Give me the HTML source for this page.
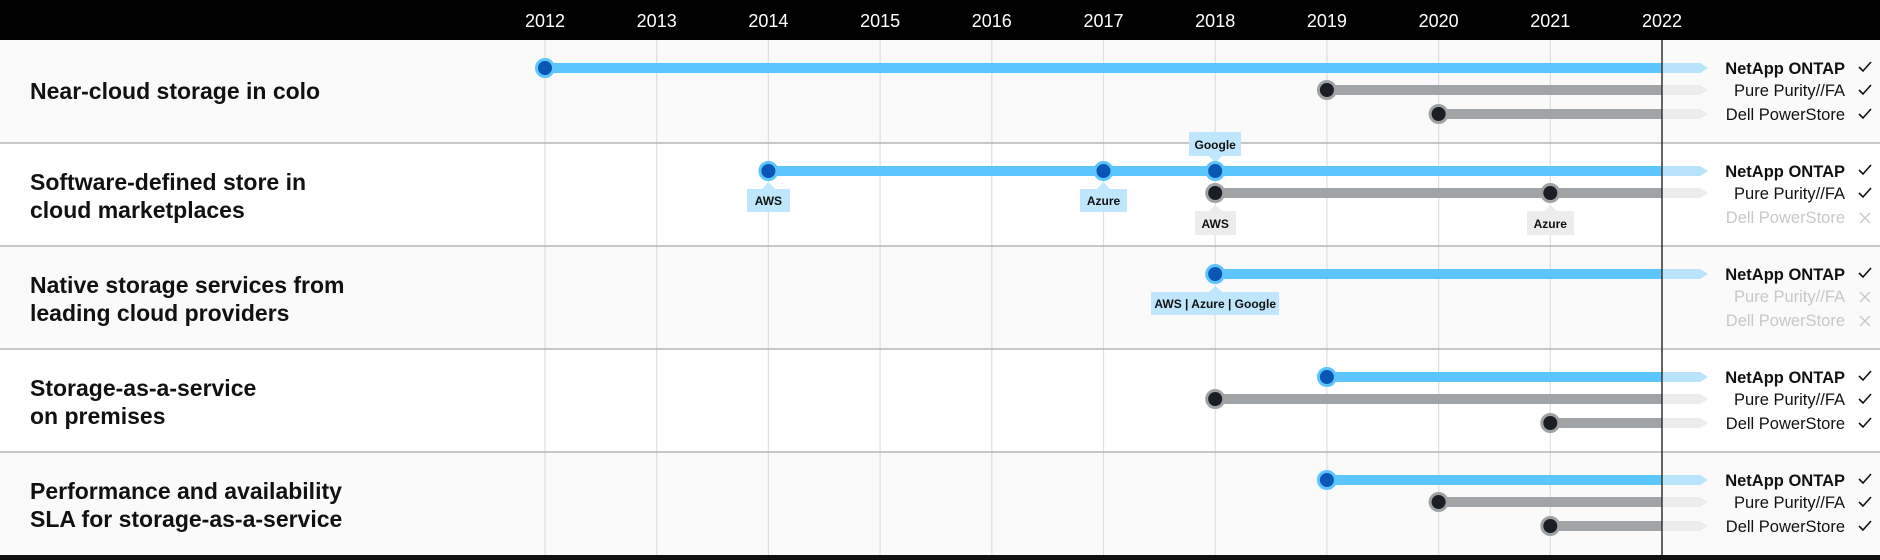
<!DOCTYPE html>
<html><head><meta charset="utf-8"><style>
html,body{margin:0;padding:0;background:#fff}
svg{display:block;font-family:"Liberation Sans",Arial,sans-serif}
</style></head><body>
<svg width="1880" height="560" viewBox="0 0 1880 560" xmlns="http://www.w3.org/2000/svg">
<defs>
<g id="bd"><circle r="8.5" fill="#0a56b4" stroke="#5cc5fd" stroke-width="3"/></g>
<g id="gd"><circle r="8.5" fill="#1b1f25" stroke="#9ea3a6" stroke-width="3"/></g>
<path id="ck" d="M-6,0 L-2,4 L6,-5" fill="none" stroke-width="1.6"/>
<path id="xx" d="M-5,-5 L5,5 M5,-5 L-5,5" fill="none" stroke-width="1.4"/>
</defs>
<rect x="0" y="0" width="1880" height="40" fill="#000"/>
<g fill="#fff" font-size="18" text-anchor="middle">
<text x="545" y="27">2012</text><text x="656.7" y="27">2013</text><text x="768.4" y="27">2014</text>
<text x="880.1" y="27">2015</text><text x="991.8" y="27">2016</text><text x="1103.5" y="27">2017</text>
<text x="1215.2" y="27">2018</text><text x="1326.9" y="27">2019</text><text x="1438.6" y="27">2020</text>
<text x="1550.3" y="27">2021</text><text x="1662" y="27">2022</text>
</g>
<rect x="0" y="40" width="1880" height="103" fill="#fafafa"/>
<rect x="0" y="143" width="1880" height="103" fill="#fff"/>
<rect x="0" y="246" width="1880" height="103" fill="#fafafa"/>
<rect x="0" y="349" width="1880" height="103" fill="#fff"/>
<rect x="0" y="452" width="1880" height="103" fill="#fafafa"/>
<rect x="0" y="555" width="1880" height="5" fill="#111"/>
<g stroke="#dddfe0" stroke-width="1.2">
<line x1="545" y1="40" x2="545" y2="555"/><line x1="656.7" y1="40" x2="656.7" y2="555"/>
<line x1="768.4" y1="40" x2="768.4" y2="555"/><line x1="880.1" y1="40" x2="880.1" y2="555"/>
<line x1="991.8" y1="40" x2="991.8" y2="555"/><line x1="1103.5" y1="40" x2="1103.5" y2="555"/>
<line x1="1215.2" y1="40" x2="1215.2" y2="555"/><line x1="1326.9" y1="40" x2="1326.9" y2="555"/>
<line x1="1438.6" y1="40" x2="1438.6" y2="555"/><line x1="1550.3" y1="40" x2="1550.3" y2="555"/>
</g>
<g stroke="#b4b6b8" stroke-width="1.5">
<line x1="0" y1="143" x2="1880" y2="143"/><line x1="0" y1="246" x2="1880" y2="246"/>
<line x1="0" y1="349" x2="1880" y2="349"/><line x1="0" y1="452" x2="1880" y2="452"/>
</g>
<g font-size="23" font-weight="bold" fill="#111">
<text x="30" y="99">Near-cloud storage in colo</text>
<text x="30" y="190">Software-defined store in</text><text x="30" y="218">cloud marketplaces</text>
<text x="30" y="293">Native storage services from</text><text x="30" y="321">leading cloud providers</text>
<text x="30" y="396">Storage-as-a-service</text><text x="30" y="424">on premises</text>
<text x="30" y="499">Performance and availability</text><text x="30" y="527">SLA for storage-as-a-service</text>
</g>
<g>
<polygon points="1662,63 1700,63 1708,68 1700,73 1662,73" fill="#b9e3fb"/>
<polygon points="1662,85 1700,85 1708,90 1700,95 1662,95" fill="#ececec"/>
<polygon points="1662,109 1700,109 1708,114 1700,119 1662,119" fill="#ececec"/>
<polygon points="1662,166 1700,166 1708,171 1700,176 1662,176" fill="#b9e3fb"/>
<polygon points="1662,188 1700,188 1708,193 1700,198 1662,198" fill="#ececec"/>
<polygon points="1662,269 1700,269 1708,274 1700,279 1662,279" fill="#b9e3fb"/>
<polygon points="1662,372 1700,372 1708,377 1700,382 1662,382" fill="#b9e3fb"/>
<polygon points="1662,394 1700,394 1708,399 1700,404 1662,404" fill="#ececec"/>
<polygon points="1662,418 1700,418 1708,423 1700,428 1662,428" fill="#ececec"/>
<polygon points="1662,475 1700,475 1708,480 1700,485 1662,485" fill="#b9e3fb"/>
<polygon points="1662,497 1700,497 1708,502 1700,507 1662,507" fill="#ececec"/>
<polygon points="1662,521 1700,521 1708,526 1700,531 1662,531" fill="#ececec"/>
</g>
<g fill="#5cc5fd">
<rect x="545" y="63" width="1117" height="10"/>
<rect x="768.4" y="166" width="893.6" height="10"/>
<rect x="1215.2" y="269" width="446.8" height="10"/>
<rect x="1326.9" y="372" width="335.1" height="10"/>
<rect x="1326.9" y="475" width="335.1" height="10"/>
</g>
<g fill="#a0a4a6">
<rect x="1326.9" y="85" width="335.1" height="10"/>
<rect x="1438.6" y="109" width="223.4" height="10"/>
<rect x="1215.2" y="188" width="446.8" height="10"/>
<rect x="1215.2" y="394" width="446.8" height="10"/>
<rect x="1550.3" y="418" width="111.7" height="10"/>
<rect x="1438.6" y="497" width="223.4" height="10"/>
<rect x="1550.3" y="521" width="111.7" height="10"/>
</g>
<line x1="1662" y1="40" x2="1662" y2="555" stroke="#333" stroke-width="1.5"/>
<g font-size="12" font-weight="bold" fill="#111" text-anchor="middle">
<polygon points="747,189 762,189 768.4,182 775,189 790,189 790,212 747,212" fill="#bfe6fd"/>
<text x="768.4" y="205">AWS</text>
<polygon points="1080,189 1097,189 1103.5,182 1110,189 1127,189 1127,212 1080,212" fill="#bfe6fd"/>
<text x="1103.5" y="205">Azure</text>
<polygon points="1189,132 1241,132 1241,156 1222,156 1215.2,163 1209,156 1189,156" fill="#bfe6fd"/>
<text x="1215.2" y="149">Google</text>
<polygon points="1195,211 1209,211 1215.2,205 1222,211 1236,211 1236,235 1195,235" fill="#ececec"/>
<text x="1215.2" y="228">AWS</text>
<polygon points="1527,211 1544,211 1550.3,205 1557,211 1574,211 1574,235 1527,235" fill="#ececec"/>
<text x="1550.3" y="228">Azure</text>
<polygon points="1151,292 1209,292 1215.2,286 1222,292 1279,292 1279,315 1151,315" fill="#bfe6fd"/>
<text x="1215.2" y="308">AWS | Azure | Google</text>
</g>
<use href="#bd" x="545" y="68"/>
<use href="#gd" x="1326.9" y="90"/>
<use href="#gd" x="1438.6" y="114"/>
<use href="#bd" x="768.4" y="171"/>
<use href="#bd" x="1103.5" y="171"/>
<use href="#bd" x="1215.2" y="171"/>
<use href="#gd" x="1215.2" y="193"/>
<use href="#gd" x="1550.3" y="193"/>
<use href="#bd" x="1215.2" y="274"/>
<use href="#bd" x="1326.9" y="377"/>
<use href="#gd" x="1215.2" y="399"/>
<use href="#gd" x="1550.3" y="423"/>
<use href="#bd" x="1326.9" y="480"/>
<use href="#gd" x="1438.6" y="502"/>
<use href="#gd" x="1550.3" y="526"/>
<g font-size="16.5" text-anchor="end" fill="#111">
<text x="1845" y="74" font-weight="bold">NetApp ONTAP</text>
<text x="1845" y="96">Pure Purity//FA</text>
<text x="1845" y="120">Dell PowerStore</text>
<text x="1845" y="177" font-weight="bold">NetApp ONTAP</text>
<text x="1845" y="199">Pure Purity//FA</text>
<text x="1845" y="223" fill="#c8c8c8">Dell PowerStore</text>
<text x="1845" y="280" font-weight="bold">NetApp ONTAP</text>
<text x="1845" y="302" fill="#c8c8c8">Pure Purity//FA</text>
<text x="1845" y="326" fill="#c8c8c8">Dell PowerStore</text>
<text x="1845" y="383" font-weight="bold">NetApp ONTAP</text>
<text x="1845" y="405">Pure Purity//FA</text>
<text x="1845" y="429">Dell PowerStore</text>
<text x="1845" y="486" font-weight="bold">NetApp ONTAP</text>
<text x="1845" y="508">Pure Purity//FA</text>
<text x="1845" y="532">Dell PowerStore</text>
</g>
<g stroke="#111">
<use href="#ck" x="1865" y="67"/><use href="#ck" x="1865" y="90"/><use href="#ck" x="1865" y="114"/>
<use href="#ck" x="1865" y="170"/><use href="#ck" x="1865" y="193"/>
<use href="#ck" x="1865" y="273"/>
<use href="#ck" x="1865" y="376"/><use href="#ck" x="1865" y="399"/><use href="#ck" x="1865" y="423"/>
<use href="#ck" x="1865" y="479"/><use href="#ck" x="1865" y="502"/><use href="#ck" x="1865" y="526"/>
</g>
<g stroke="#c8c8c8">
<use href="#xx" x="1865" y="218"/><use href="#xx" x="1865" y="297"/><use href="#xx" x="1865" y="321"/>
</g>
</svg>
</body></html>
